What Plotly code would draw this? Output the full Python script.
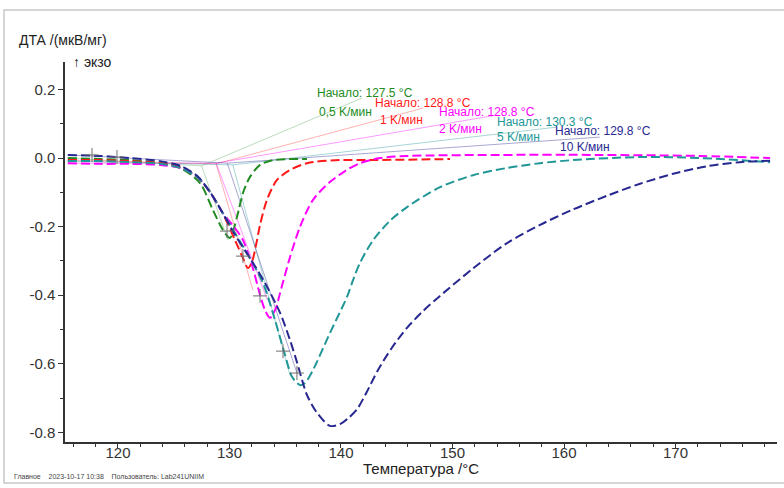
import plotly.graph_objects as go

# ---------------- data ----------------
rates = ["0,5 K/мин", "1 K/мин", "2 K/мин", "5 K/мин", "10 K/мин"]
onset = [127.5, 128.8, 128.8, 130.3, 129.8]

t_05 = [115.5, 118.4, 121.1, 123.8, 125.6, 127.35, 128.52, 129.42, 130.04, 130.67, 131.21, 131.84, 132.74, 133.9, 136.95]
v_05 = [0.0, -0.003, -0.006, -0.015, -0.029, -0.073, -0.152, -0.210, -0.233, -0.172, -0.102, -0.055, -0.020, -0.006, -0.003]

t_1 = [115.5, 118.4, 121.1, 123.8, 125.6, 127.1, 128.25, 129.33, 130.49, 131.21, 131.66, 132.02, 132.38, 132.74, 133.36, 134.26, 135.43, 136.95, 139.91, 142.6, 149.78]
v_1 = [-0.006, -0.006, -0.009, -0.015, -0.026, -0.055, -0.099, -0.157, -0.239, -0.292, -0.321, -0.303, -0.254, -0.195, -0.122, -0.064, -0.035, -0.015, -0.006, -0.006, -0.003]

t_2 = [115.5, 118.4, 121.1, 123.8, 125.6, 127.1, 128.25, 129.33, 130.49, 131.21, 132.02, 132.74, 133.18, 133.63, 134.17, 134.53, 135.43, 136.32, 137.49, 139.01, 140.36, 141.7, 143.5, 145.92, 154.26, 163.23, 172.2, 178.48]
v_2 = [-0.015, -0.017, -0.017, -0.020, -0.029, -0.055, -0.099, -0.157, -0.204, -0.239, -0.312, -0.399, -0.443, -0.466, -0.437, -0.394, -0.289, -0.201, -0.122, -0.070, -0.038, -0.015, 0.0, 0.006, 0.009, 0.009, 0.006, 0.0]

t_5 = [115.5, 118.4, 121.1, 123.8, 125.6, 127.1, 128.25, 129.33, 130.49, 131.84, 133.0, 134.08, 134.98, 135.61, 136.32, 136.77, 137.49, 139.01, 140.54, 141.08, 141.7, 142.87, 144.39, 145.92, 148.88, 151.84, 154.89, 157.85, 160.81, 166.82, 172.2, 178.48]
v_5 = [-0.009, -0.009, -0.012, -0.017, -0.029, -0.055, -0.099, -0.157, -0.219, -0.292, -0.364, -0.472, -0.574, -0.638, -0.662, -0.656, -0.618, -0.510, -0.405, -0.356, -0.306, -0.240, -0.183, -0.143, -0.085, -0.050, -0.029, -0.015, -0.006, 0.003, 0.0, -0.012]

t_10 = [115.5, 118.4, 121.1, 123.8, 125.6, 127.1, 128.25, 129.33, 130.49, 131.84, 133.18, 134.53, 135.43, 136.05, 136.95, 137.85, 139.01, 139.91, 140.6, 141.43, 142.3, 143.32, 144.57, 145.92, 147.4, 148.88, 151.84, 154.89, 157.85, 160.81, 163.86, 166.82, 169.78, 172.83, 175.78, 178.48]
v_10 = [0.009, 0.006, 0.0, -0.009, -0.023, -0.052, -0.099, -0.157, -0.224, -0.292, -0.364, -0.451, -0.531, -0.595, -0.691, -0.743, -0.781, -0.776, -0.760, -0.733, -0.683, -0.618, -0.553, -0.495, -0.445, -0.402, -0.322, -0.248, -0.195, -0.150, -0.110, -0.075, -0.046, -0.024, -0.012, -0.008]

# onset construction: value at onset, end of steep tangent, baseline start
onset_v = [-0.023, -0.017, -0.015, -0.020, -0.015]
tan_end_t = [129.87, 132.1, 133.4, 135.43, 136.05]
tan_end_v = [-0.239, -0.385, -0.414, -0.633, -0.627]
base_start_v = [0.0, -0.006, -0.015, -0.009, 0.009]

# cross marks
mark_t = [117.67, 119.91, 129.78, 131.21, 132.74, 134.8, 136.05]
mark_v = [0.009, 0.003, -0.213, -0.286, -0.402, -0.563, -0.627]

series_t = [t_05, t_1, t_2, t_5, t_10]
series_v = [v_05, v_1, v_2, v_5, v_10]

# ---------------- styles ----------------
colors = ["rgb(34,139,34)", "rgb(255,25,25)", "rgb(255,0,255)", "rgb(32,150,150)", "rgb(40,40,145)"]
thin = ["rgba(34,139,34,0.3)", "rgba(255,60,60,0.4)", "rgba(255,0,255,0.4)", "rgba(32,150,150,0.4)", "rgba(60,60,160,0.45)"]
label_start = [(137.67, 0.190, 137.85, 0.134), (142.87, 0.160, 143.32, 0.111),
               (148.61, 0.134, 148.61, 0.085), (153.81, 0.105, 153.81, 0.061),
               (159.01, 0.079, 159.46, 0.032)]
leader_end = [(141.9, 0.175), (147.4, 0.146), (153.9, 0.125), (159.3, 0.090), (163.2, 0.061)]

fig = go.Figure()

for i in range(5):
    fig.add_trace(go.Scatter(x=[115.5, onset[i], tan_end_t[i]],
                             y=[base_start_v[i], onset_v[i], tan_end_v[i]],
                             mode="lines", line=dict(color=thin[i], width=1),
                             hoverinfo="skip", showlegend=False))
    fig.add_trace(go.Scatter(x=[onset[i], leader_end[i][0]],
                             y=[onset_v[i], leader_end[i][1]],
                             mode="lines", line=dict(color=thin[i], width=1),
                             hoverinfo="skip", showlegend=False))

for i in range(5):
    fig.add_trace(go.Scatter(x=series_t[i], y=series_v[i], mode="lines",
                             line=dict(color=colors[i], width=2, dash="9px,4px", shape="spline", smoothing=0.8),
                             name=rates[i], showlegend=False))

fig.add_trace(go.Scatter(x=mark_t, y=mark_v, mode="markers",
                         marker=dict(symbol="cross-thin", size=10, line=dict(color="rgb(110,110,110)", width=1)),
                         hoverinfo="skip", showlegend=False))

font_fam = "Liberation Sans, Arial, sans-serif"
for i in range(5):
    x1, y1, x2, y2 = label_start[i]
    fig.add_annotation(x=x1, y=y1, xref="x", yref="y", text=f"Начало: {onset[i]} °C",
                       showarrow=False, xanchor="left", yanchor="middle",
                       font=dict(family=font_fam, size=12, color=colors[i]))
    fig.add_annotation(x=x2, y=y2, xref="x", yref="y", text=rates[i],
                       showarrow=False, xanchor="left", yanchor="middle",
                       font=dict(family=font_fam, size=12, color=colors[i]))

W, H, L, R, T, B = 784, 488, 65, 7, 62, 46
pw, ph = W - L - R, H - T - B
def px(x): return (x - L) / pw
def py(y): return (H - B - y) / ph

fig.add_annotation(x=px(17), y=py(40), xref="paper", yref="paper", text="ДТА /(мкВ/мг)",
                   showarrow=False, xanchor="left", yanchor="middle",
                   font=dict(family=font_fam, size=14, color="#222"))
fig.add_annotation(x=px(71), y=py(62), xref="paper", yref="paper", text="↑ экзо",
                   showarrow=False, xanchor="left", yanchor="middle",
                   font=dict(family=font_fam, size=14, color="#222"))
fig.add_annotation(x=0.5, y=py(468), xref="paper", yref="paper", text="Температура /°C",
                   showarrow=False, xanchor="center", yanchor="middle",
                   font=dict(family=font_fam, size=15, color="#222"))
fig.add_annotation(x=px(12), y=py(476), xref="paper", yref="paper",
                   text="Главное&nbsp;&nbsp;&nbsp;&nbsp;2023-10-17 10:38&nbsp;&nbsp;&nbsp;&nbsp;Пользователь: Lab241UNIIM",
                   showarrow=False, xanchor="left", yanchor="middle",
                   font=dict(family=font_fam, size=7, color="#444"))

fig.add_shape(type="rect", xref="paper", yref="paper",
              x0=px(4), x1=px(800), y0=py(483), y1=py(10),
              line=dict(color="rgb(200,200,200)", width=1.5), layer="below")

fig.update_layout(
    width=W, height=H, margin=dict(l=L, r=R, t=T, b=B),
    paper_bgcolor="white", plot_bgcolor="white",
    font=dict(family=font_fam, size=15, color="#333"),
    xaxis=dict(range=[115.25, 179.1], tickvals=[120, 130, 140, 150, 160, 170],
               ticks="outside", ticklen=4, tickcolor="#333", showline=True, linecolor="#333", linewidth=1.5,
               showgrid=False, zeroline=False, ticklabelstandoff=-8,
               minor=dict(dtick=2, tick0=120, ticks="outside", ticklen=3, tickcolor="#333")),
    yaxis=dict(range=[-0.828, 0.28], tickvals=[-0.8, -0.6, -0.4, -0.2, 0.0, 0.2],
               ticktext=["-0.8", "-0.6", "-0.4", "-0.2", "0.0", "0.2"],
               ticks="outside", ticklen=5, tickcolor="#333", showline=True, linecolor="#333", linewidth=1.5,
               showgrid=False, zeroline=False,
               minor=dict(dtick=0.1, tick0=0, ticks="outside", ticklen=3, tickcolor="#333")),
)

fig.write_html("out.html", config={"displayModeBar": False},
               post_script="document.body.style.margin='0px';")
